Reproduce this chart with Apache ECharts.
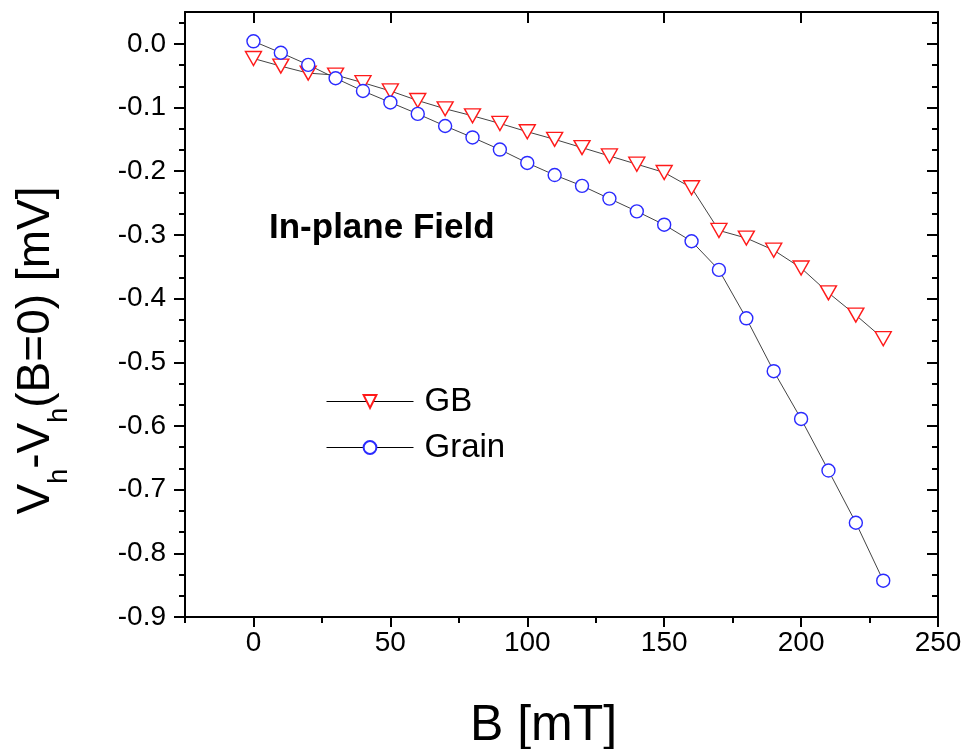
<!DOCTYPE html>
<html>
<head>
<meta charset="utf-8">
<script src="https://cdn.jsdelivr.net/npm/echarts@6/dist/echarts.min.js"></script>
<style>
  html, body { margin: 0; padding: 0; background: #fff; }
  #chart { width: 965px; height: 749px; }
</style>
</head>
<body>
<div id="chart"></div>
<script>
// Applied in-plane field B (mT)
const fieldB = [0, 10, 20, 30, 40, 50, 60, 70, 80, 90, 100, 110, 120, 130, 140, 150, 160, 170, 180, 190, 200, 210, 220, 230];
// Hall voltage change relative to B = 0 (mV)
const gbValues = [-0.023, -0.035, -0.046, -0.049, -0.061, -0.074, -0.089, -0.102, -0.113, -0.125, -0.138, -0.150, -0.163, -0.176, -0.189, -0.202, -0.226, -0.293, -0.305, -0.324, -0.352, -0.391, -0.426, -0.463];
const grainValues = [0.004, -0.014, -0.033, -0.054, -0.074, -0.092, -0.110, -0.129, -0.147, -0.166, -0.187, -0.206, -0.223, -0.243, -0.263, -0.284, -0.310, -0.355, -0.431, -0.514, -0.589, -0.670, -0.752, -0.843];

const seriesNames = ['GB', 'Grain'];

// Axis ranges and tick positions
const xRange = [-25, 250];
const yRange = [-0.9, 0.05];
const xMajorTicks = [0, 50, 100, 150, 200, 250];
const xMinorTicks = [-25, 25, 75, 125, 175, 225];
const yMajorTicks = [0, -0.1, -0.2, -0.3, -0.4, -0.5, -0.6, -0.7, -0.8, -0.9];
const yMinorTicks = [];
for (let k = 1; k <= 29; k++) {
  if (k % 3 !== 0) yMinorTicks.push(+(-0.9 + k * 0.1 / 3).toFixed(5));
}

const FONT = "'Liberation Sans', Arial, sans-serif";
const BLACK = '#000';
const axisLineStyle = { color: BLACK, width: 2 };

function pairs(xs, ys) { return xs.map((x, i) => [x, ys[i]]); }

function xAxisDef(opts) {
  return Object.assign({
    type: 'value', min: xRange[0], max: xRange[1], position: 'bottom',
    axisLine: { show: false, onZero: false, lineStyle: axisLineStyle },
    axisTick: { show: false },
    axisLabel: { show: false },
    splitLine: { show: false }
  }, opts);
}
function yAxisDef(opts) {
  return Object.assign({
    type: 'value', min: yRange[0], max: yRange[1], position: 'left',
    axisLine: { show: false, onZero: false, lineStyle: axisLineStyle },
    axisTick: { show: false },
    axisLabel: { show: false },
    splitLine: { show: false }
  }, opts);
}

const chart = echarts.init(document.getElementById('chart'), null, { renderer: 'canvas' });

chart.setOption({
  backgroundColor: '#fff',
  animation: false,
  textStyle: { fontFamily: FONT },
  grid: { left: 185, right: 27, top: 12, bottom: 132, containLabel: false, outerBoundsMode: 'none' },
  xAxis: [
    xAxisDef({
      name: 'B [mT]',
      nameLocation: 'middle',
      nameGap: 84,
      nameTextStyle: { fontFamily: FONT, fontSize: 50, color: BLACK, padding: [0, 36, 0, 0] },
      axisLine: { show: true, onZero: false, lineStyle: axisLineStyle },
      axisTick: { show: true, inside: false, length: 10, customValues: xMajorTicks, lineStyle: { color: BLACK, width: 2 } },
      axisLabel: { show: true, customValues: xMajorTicks, fontFamily: FONT, fontSize: 28, color: BLACK, margin: 12 }
    }),
    xAxisDef({
      axisTick: { show: true, inside: false, length: 6, customValues: xMinorTicks, lineStyle: { color: BLACK, width: 2 } }
    }),
    xAxisDef({
      position: 'top',
      axisLine: { show: true, onZero: false, lineStyle: axisLineStyle },
      axisTick: { show: true, inside: true, length: 11, customValues: xMajorTicks, lineStyle: { color: BLACK, width: 2 } }
    })
  ],
  yAxis: [
    yAxisDef({
      name: '{m|V}{s|h}{m|-V}{s|h}{m|(B=0) [mV]}',
      nameLocation: 'middle',
      nameRotate: 90,
      nameGap: 112,
      nameTextStyle: {
        color: BLACK,
        padding: [0, 72, 0, 0],
        rich: {
          m: { fontFamily: FONT, fontSize: 46, color: BLACK, lineHeight: 46, verticalAlign: 'top' },
          s: { fontFamily: FONT, fontSize: 27, color: BLACK, verticalAlign: 'top', padding: [33, 0, 0, 0] }
        }
      },
      axisLine: { show: true, onZero: false, lineStyle: axisLineStyle },
      axisTick: { show: true, inside: false, length: 11, customValues: yMajorTicks, lineStyle: { color: BLACK, width: 2 } },
      axisLabel: {
        show: true, customValues: yMajorTicks, fontFamily: FONT, fontSize: 28, color: BLACK, margin: 19,
        formatter: v => v.toFixed(1)
      }
    }),
    yAxisDef({
      axisTick: { show: true, inside: false, length: 6, customValues: yMinorTicks, lineStyle: { color: BLACK, width: 2 } }
    }),
    yAxisDef({
      position: 'right',
      axisLine: { show: true, onZero: false, lineStyle: axisLineStyle },
      axisTick: { show: true, inside: true, length: 11, customValues: yMajorTicks, lineStyle: { color: BLACK, width: 2 } }
    }),
    yAxisDef({
      position: 'right',
      axisTick: { show: true, inside: true, length: 6, customValues: yMinorTicks, lineStyle: { color: BLACK, width: 2 } }
    })
  ],
  legend: [
    {
      data: [seriesNames[0]], orient: 'vertical', left: 321, top: 380,
      itemWidth: 87, itemHeight: 16,
      lineStyle: { color: BLACK, width: 1 },
      textStyle: { fontFamily: FONT, fontSize: 33, color: BLACK, padding: [0, 0, 0, 6] }
    },
    {
      data: [seriesNames[1]], orient: 'vertical', left: 321, top: 426,
      itemWidth: 87, itemHeight: 16,
      lineStyle: { color: BLACK, width: 1 },
      textStyle: { fontFamily: FONT, fontSize: 33, color: BLACK, padding: [0, 0, 0, 6] }
    }
  ],
  graphic: [
    {
      type: 'text', left: 269, top: 211, silent: true,
      style: { text: 'In-plane Field', font: "bold 35px 'Liberation Sans', Arial, sans-serif", fill: BLACK }
    }
  ],
  series: [
    {
      name: seriesNames[0], type: 'line', xAxisIndex: 0, yAxisIndex: 0,
      data: pairs(fieldB, gbValues),
      symbol: 'triangle', symbolSize: [16, 14], symbolRotate: 180,
      lineStyle: { color: '#444', width: 1 },
      itemStyle: { color: '#fff', borderColor: '#ff1a1a', borderWidth: 1.4 },
      emphasis: { disabled: true }
    },
    {
      name: seriesNames[1], type: 'line', xAxisIndex: 0, yAxisIndex: 0,
      data: pairs(fieldB, grainValues),
      symbol: 'circle', symbolSize: 13,
      lineStyle: { color: '#444', width: 1 },
      itemStyle: { color: '#fff', borderColor: '#2a2aff', borderWidth: 1.4 },
      emphasis: { disabled: true }
    }
  ]
});
</script>
</body>
</html>
